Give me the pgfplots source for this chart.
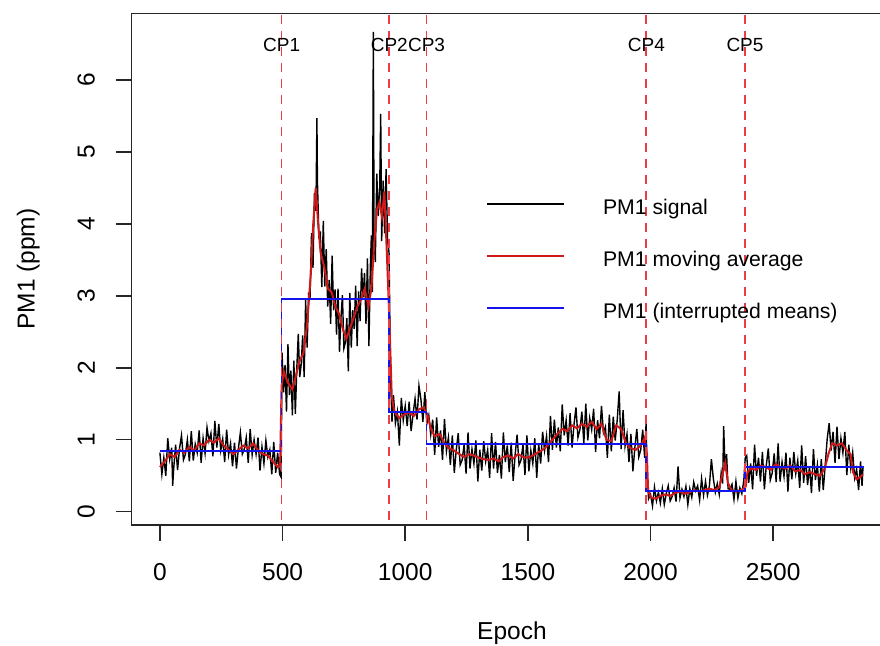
\documentclass[border=0pt]{standalone}
\usepackage{fontspec}
\setmainfont{Liberation Sans}
\usepackage{pgfplots}
\pgfplotsset{compat=1.18}

\definecolor{avgred}{RGB}{205,25,25}
\definecolor{cpred}{RGB}{238,60,70}
\definecolor{meanblue}{RGB}{20,20,235}

% PM1 signal (epoch, ppm)
\pgfplotstableread{
x y
0 0.82
8 0.52
16 0.75
24 0.50
32 1.02
40 0.73
48 0.89
52 0.36
56 0.59
64 0.93
72 0.58
80 0.88
88 1.06
96 0.72
104 0.80
112 1.00
120 0.70
128 1.12
136 0.71
144 0.94
152 0.82
160 1.13
168 0.68
176 1.02
184 0.81
192 1.17
200 0.98
208 1.09
216 0.77
224 1.26
232 0.89
240 1.22
248 0.85
256 1.01
264 0.69
272 1.14
280 0.79
288 0.95
296 0.63
304 0.96
312 0.60
320 0.88
328 1.10
336 0.80
344 0.87
352 1.03
360 0.68
368 1.15
376 0.79
384 1.00
392 0.80
400 1.03
408 0.57
416 0.90
424 0.67
432 0.99
440 0.76
448 0.86
456 0.52
464 0.97
472 0.54
480 0.82
488 0.52
494 0.48
498 2.21
504 1.66
510 2.04
516 1.39
522 2.33
528 1.62
534 1.96
540 1.34
546 2.10
552 1.36
558 1.99
564 2.47
570 1.87
576 2.05
582 2.45
588 1.87
594 2.94
600 2.28
606 3.02
612 2.98
618 3.87
624 3.39
630 4.43
636 4.18
640 5.47
642 4.61
648 3.83
654 3.87
660 3.12
666 4.04
672 3.13
678 3.65
684 2.85
690 3.22
696 2.61
702 3.56
708 2.80
714 3.09
720 2.46
726 3.10
732 2.22
738 2.69
744 3.01
750 2.27
756 2.35
762 2.69
768 1.95
774 3.04
780 2.28
786 2.80
792 2.54
798 3.14
804 2.30
810 3.06
816 2.65
822 3.38
828 2.98
834 3.32
840 2.61
846 3.52
852 2.30
858 3.43
862 3.84
866 3.05
870 6.67
873 3.82
878 3.47
884 4.70
890 4.11
896 4.51
900 5.53
904 3.76
910 4.60
916 3.87
922 4.76
928 3.78
934 3.60
940 1.90
946 1.25
952 1.62
960 1.23
968 1.39
976 0.92
984 1.58
992 1.27
1000 1.47
1008 1.19
1016 1.53
1024 1.12
1032 1.36
1040 1.57
1048 1.28
1056 1.75
1064 1.56
1072 1.25
1080 1.66
1088 1.22
1096 1.34
1104 1.07
1112 1.28
1120 0.79
1128 1.31
1136 0.90
1144 1.13
1152 0.72
1160 1.29
1168 0.84
1176 1.03
1184 0.65
1192 1.06
1200 0.54
1208 0.86
1216 1.09
1224 0.65
1232 0.72
1240 0.93
1248 0.53
1256 1.10
1264 0.60
1272 0.87
1280 0.67
1288 0.99
1296 0.42
1304 0.86
1312 0.57
1320 0.98
1328 0.70
1336 0.86
1344 0.47
1352 1.09
1360 0.60
1368 0.97
1376 0.54
1384 0.79
1392 0.46
1400 1.10
1408 0.69
1416 0.92
1424 0.55
1432 0.96
1440 0.43
1448 0.79
1456 1.07
1464 0.65
1472 0.72
1480 0.93
1488 0.51
1496 1.06
1504 0.56
1512 0.85
1520 0.67
1528 1.02
1536 0.47
1544 0.94
1552 0.67
1560 1.11
1568 0.85
1576 1.05
1584 0.69
1592 1.33
1600 0.86
1608 1.28
1616 0.89
1624 1.17
1632 0.84
1640 1.49
1648 1.06
1656 1.27
1664 0.92
1672 1.37
1680 0.89
1688 1.21
1696 1.45
1704 1.03
1712 1.14
1720 1.39
1728 0.95
1736 1.50
1744 0.99
1752 1.30
1760 1.14
1768 1.43
1776 0.83
1784 1.27
1792 1.02
1800 1.47
1808 1.10
1816 1.18
1824 0.75
1832 1.35
1840 0.84
1848 1.32
1856 0.99
1864 1.27
1872 1.67
1880 0.87
1888 1.41
1896 0.91
1904 1.08
1912 0.69
1920 1.08
1928 0.56
1936 0.89
1944 1.15
1952 0.76
1960 0.86
1968 1.14
1976 0.75
1982 1.25
1986 0.50
1992 0.18
2000 0.24
2008 0.08
2016 0.34
2024 0.15
2032 0.27
2040 0.12
2048 0.32
2056 0.10
2064 0.25
2072 0.36
2080 0.15
2088 0.21
2096 0.33
2104 0.14
2112 0.63
2120 0.19
2128 0.31
2136 0.21
2144 0.35
2152 0.10
2160 0.32
2168 0.20
2176 0.41
2184 0.29
2192 0.36
2200 0.16
2208 0.46
2216 0.23
2224 0.42
2232 0.23
2240 0.36
2248 0.73
2256 0.46
2264 0.27
2272 0.39
2280 0.24
2288 0.54
2294 0.39
2298 1.19
2304 0.57
2310 0.80
2316 0.32
2324 0.31
2332 0.38
2340 0.17
2348 0.42
2356 0.19
2364 0.33
2372 0.25
2380 0.43
2386 0.75
2392 0.78
2400 0.40
2408 0.67
2416 0.31
2424 0.93
2432 0.50
2440 0.75
2448 0.42
2456 0.83
2464 0.31
2472 0.65
2480 0.88
2488 0.44
2496 0.54
2504 0.81
2512 0.41
2520 0.95
2528 0.42
2536 0.69
2544 0.49
2552 0.82
2560 0.28
2568 0.75
2576 0.45
2584 0.83
2592 0.53
2600 0.71
2608 0.33
2616 0.92
2624 0.40
2632 0.77
2640 0.37
2648 0.63
2656 0.26
2664 0.87
2672 0.44
2680 0.65
2688 0.28
2696 0.73
2704 0.30
2712 0.65
2720 1.01
2728 1.23
2736 0.85
2744 1.11
2752 0.68
2760 1.18
2768 0.73
2776 1.02
2784 0.82
2792 1.11
2800 0.51
2808 0.93
2816 0.61
2824 0.82
2832 0.47
2840 0.59
2848 0.30
2856 0.70
2862 0.36
2866 0.62
}\signal

% PM1 moving average
\pgfplotstableread{
x y
0 0.62
20 0.70
40 0.80
60 0.76
80 0.86
100 0.82
120 0.90
140 0.85
160 0.95
180 0.92
200 1.00
220 0.96
240 1.02
260 0.92
280 0.86
300 0.80
320 0.86
340 0.92
360 0.88
380 0.95
400 0.85
420 0.80
440 0.78
460 0.70
480 0.62
490 0.66
496 1.75
505 1.95
520 1.80
540 1.70
555 1.90
570 2.10
585 2.20
600 2.60
615 3.30
625 4.00
635 4.50
645 4.00
655 3.60
670 3.40
685 3.10
700 3.05
715 2.85
730 2.75
745 2.55
760 2.40
775 2.55
790 2.70
805 2.85
820 2.95
835 3.10
850 2.85
862 3.10
875 3.80
885 4.20
895 4.30
905 4.10
915 4.45
925 3.60
935 2.70
945 1.60
955 1.40
975 1.30
995 1.35
1015 1.38
1035 1.33
1055 1.42
1075 1.45
1090 1.35
1105 1.15
1120 1.05
1140 1.08
1160 0.95
1180 0.88
1200 0.85
1220 0.80
1240 0.76
1260 0.80
1280 0.78
1300 0.75
1320 0.73
1340 0.72
1360 0.74
1380 0.70
1400 0.76
1420 0.78
1440 0.74
1460 0.80
1480 0.76
1500 0.75
1520 0.78
1540 0.82
1560 0.86
1580 0.92
1600 1.00
1620 1.08
1640 1.15
1660 1.12
1680 1.20
1700 1.16
1720 1.22
1740 1.18
1760 1.25
1780 1.15
1800 1.22
1820 1.00
1840 0.98
1860 1.20
1880 1.15
1900 0.95
1920 0.88
1940 0.86
1960 0.92
1975 1.02
1985 0.80
1990 0.30
2000 0.20
2020 0.18
2040 0.22
2060 0.24
2080 0.22
2100 0.26
2120 0.28
2140 0.25
2160 0.27
2180 0.30
2200 0.28
2220 0.30
2240 0.32
2260 0.30
2280 0.34
2295 0.55
2305 0.68
2315 0.40
2330 0.30
2350 0.28
2370 0.30
2388 0.35
2395 0.55
2410 0.60
2430 0.58
2450 0.64
2470 0.62
2490 0.58
2510 0.66
2530 0.62
2550 0.60
2570 0.64
2590 0.56
2610 0.58
2630 0.52
2650 0.55
2670 0.52
2690 0.50
2710 0.60
2725 0.80
2740 0.95
2760 0.92
2780 0.95
2800 0.85
2815 0.80
2825 0.55
2840 0.45
2855 0.48
2865 0.52
}\movavg

% interrupted means between change points
\pgfplotstableread{
x y
0 0.84
496 0.84
496 2.96
935 2.96
935 1.38
1087 1.38
1087 0.94
1983 0.94
1983 0.29
2385 0.29
2385 0.62
2870 0.62
}\means

\begin{document}
\begin{tikzpicture}
\begin{axis}[
  name=ax,
  scale only axis,
  width=380.25pt, height=255.85pt,
  xmin=-115, xmax=2985, ymin=-0.185, ymax=6.927,
  axis line style={line width=0.75pt, black!85},
  xtick={0,500,1000,1500,2000,2500},
  ytick={0,1,2,3,4,5,6},
  xtick pos=left, ytick pos=left,
  tick align=outside, major tick length=8pt,
  tick style={line width=0.75pt, black!85},
  /pgf/number format/assume math mode=true,
  /pgf/number format/1000 sep={},
  ticklabel style={font=\fontsize{12.25}{14}\selectfont},
  xticklabel style={anchor=center, yshift=-15.5pt},
  yticklabel style={xshift=-14.7pt, rotate=90, anchor=center},
  xlabel={Epoch}, ylabel={PM1 (ppm)},
  label style={font=\fontsize{12.25}{14}\selectfont},
  xlabel style={at={(axis description cs:0.5,-0.211)}, anchor=center},
  ylabel style={at={(axis description cs:-0.136,0.5)}, anchor=center},
  legend style={draw=none, fill=none, at={(axis description cs:0.4576,0.5165)},
    anchor=west, font=\fontsize{10.6}{12}\selectfont,
    row sep=16.6pt, column sep=18.85pt,
    nodes={inner sep=0pt, text height=7.5pt, text depth=2pt}},
  legend image code/.code={\draw[#1, line width=1pt] (0pt,2.5pt) -- (38.65pt,2.5pt);},
  legend cell align=left,
]
\addplot[black, line width=0.7pt] table[x=x, y=y] {\signal};
\addlegendentry{PM1 signal}
\addplot[avgred, line width=1pt] table[x=x, y=y] {\movavg};
\addlegendentry{PM1 moving average}
\addplot[meanblue, line width=0.9pt] table[x=x, y=y] {\means};
\addlegendentry{PM1 (interrupted means)}

\addplot[cpred, line width=0.9pt, dash pattern=on 4.5pt off 3.5pt, forget plot] coordinates {(496,-1) (496,8)};
\addplot[cpred, line width=0.9pt, dash pattern=on 4.5pt off 3.5pt, forget plot] coordinates {(935,-1) (935,8)};
\addplot[cpred, line width=0.9pt, dash pattern=on 4.5pt off 3.5pt, forget plot] coordinates {(1087,-1) (1087,8)};
\addplot[cpred, line width=0.9pt, dash pattern=on 4.5pt off 3.5pt, forget plot] coordinates {(1983,-1) (1983,8)};
\addplot[cpred, line width=0.9pt, dash pattern=on 4.5pt off 3.5pt, forget plot] coordinates {(2385,-1) (2385,8)};

\node[font=\fontsize{9.5}{11}\selectfont] at (axis cs:496,6.486) {CP1};
\node[font=\fontsize{9.5}{11}\selectfont] at (axis cs:935,6.486) {CP2};
\node[font=\fontsize{9.5}{11}\selectfont] at (axis cs:1087,6.486) {CP3};
\node[font=\fontsize{9.5}{11}\selectfont] at (axis cs:1983,6.486) {CP4};
\node[font=\fontsize{9.5}{11}\selectfont] at (axis cs:2385,6.486) {CP5};
\end{axis}
\pgfresetboundingbox
\path[use as bounding box] (ax.south west) ++(-65.85pt,-60.5pt) rectangle ++(440pt,323pt);
\end{tikzpicture}
\end{document}
